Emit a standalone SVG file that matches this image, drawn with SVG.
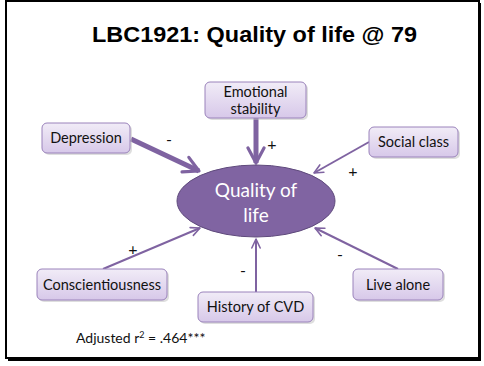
<svg xmlns="http://www.w3.org/2000/svg" width="484" height="366" viewBox="0 0 484 366">
<defs>
<linearGradient id="g" x1="0" y1="0" x2="0" y2="1">
<stop offset="0" stop-color="#f1ecf7"/>
<stop offset="1" stop-color="#d7c8e9"/>
</linearGradient>
<marker id="ah" viewBox="0 0 10 10" refX="8.5" refY="5" markerWidth="4" markerHeight="4" orient="auto" markerUnits="strokeWidth">
<path d="M1,1 L8.5,5 L1,9" fill="none" stroke="#7f63a1" stroke-width="1.6" stroke-linecap="round" stroke-linejoin="round"/>
</marker>
<marker id="ahs" viewBox="0 0 10 10" refX="8.5" refY="5" markerWidth="6" markerHeight="6" orient="auto" markerUnits="strokeWidth">
<path d="M1,1.5 L8.5,5 L1,8.5" fill="none" stroke="#7f63a1" stroke-width="1.3" stroke-linecap="round" stroke-linejoin="round"/>
</marker>
</defs>
<style>
.box{fill:url(#g);stroke:#9a82bb;stroke-width:1}
.shadow{fill:#bdbdbd;opacity:0.5}
.lbl{font-family:Lato,"Noto Sans",sans-serif;font-size:14.5px;fill:#111;text-anchor:middle}
.sign{font-family:Lato,"Noto Sans",sans-serif;font-size:16px;fill:#111;text-anchor:middle}
.thick{stroke:#7f63a1;stroke-width:5;fill:none}
.thin{stroke:#7f63a1;stroke-width:2;fill:none}
</style>
<rect x="0" y="0" width="484" height="366" fill="#fff"/>
<rect x="6" y="1" width="473" height="357" fill="none" stroke="#000" stroke-width="2"/>
<rect x="478" y="3" width="3" height="358" fill="#000"/>
<rect x="8" y="358" width="473" height="3" fill="#000"/>
<text x="254.5" y="42" font-family="Liberation Sans,Arial,sans-serif" font-size="21.5" font-weight="bold" text-anchor="middle" fill="#000" textLength="325" lengthAdjust="spacingAndGlyphs">LBC1921: Quality of life @ 79</text>

<g id="connectors">
<line class="thick" x1="131" y1="139" x2="199" y2="171" marker-end="url(#ah)"/>
<line class="thick" x1="256" y1="118" x2="256" y2="163" marker-end="url(#ah)"/>
<line class="thin" x1="369" y1="142" x2="314" y2="173" marker-end="url(#ahs)"/>
<line class="thin" x1="103" y1="269" x2="200" y2="228" marker-end="url(#ahs)"/>
<line class="thin" x1="256" y1="292" x2="256" y2="239" marker-end="url(#ahs)"/>
<line class="thin" x1="398" y1="269" x2="315" y2="228" marker-end="url(#ahs)"/>
</g>

<g id="signs">
<text class="sign" x="169" y="145">-</text>
<text class="sign" x="272" y="150">+</text>
<text class="sign" x="353" y="177">+</text>
<text class="sign" x="133" y="255">+</text>
<text class="sign" x="243" y="276">-</text>
<text class="sign" x="340" y="260">-</text>
</g>

<g id="quality">
<ellipse cx="256" cy="201" rx="79" ry="36" fill="#8064a2" stroke="#5f4a7c" stroke-width="1"/>
<text x="256" y="197" font-family="Lato,'Noto Sans',sans-serif" font-size="19" fill="#fff" text-anchor="middle">Quality of</text>
<text x="256" y="222" font-family="Lato,'Noto Sans',sans-serif" font-size="19" fill="#fff" text-anchor="middle">life</text>
</g>

<g id="emotional">
<rect class="shadow" x="207" y="84" width="101" height="36" rx="5"/>
<rect class="box" x="205" y="82" width="101" height="36" rx="5"/>
<text class="lbl" x="255.5" y="97">Emotional</text>
<text class="lbl" x="255.5" y="114">stability</text>
</g>

<g id="depression">
<rect class="shadow" x="44" y="125" width="88" height="30" rx="5"/>
<rect class="box" x="42" y="123" width="88" height="30" rx="5"/>
<text class="lbl" x="86" y="143">Depression</text>
</g>

<g id="social">
<rect class="shadow" x="371" y="129" width="89" height="30" rx="5"/>
<rect class="box" x="369" y="127" width="89" height="30" rx="5"/>
<text class="lbl" x="413.5" y="147">Social class</text>
</g>

<g id="conscientiousness">
<rect class="shadow" x="39" y="271" width="130" height="31" rx="5"/>
<rect class="box" x="37" y="269" width="130" height="31" rx="5"/>
<text class="lbl" x="102" y="290">Conscientiousness</text>
</g>

<g id="cvd">
<rect class="shadow" x="200" y="294" width="115" height="30" rx="5"/>
<rect class="box" x="198" y="292" width="115" height="30" rx="5"/>
<text class="lbl" x="255.5" y="312">History of CVD</text>
</g>

<g id="livealone">
<rect class="shadow" x="355" y="271" width="90" height="31" rx="5"/>
<rect class="box" x="353" y="269" width="90" height="31" rx="5"/>
<text class="lbl" x="398" y="290">Live alone</text>
</g>

<text x="76" y="343" font-family="Lato,'Noto Sans',sans-serif" font-size="14" fill="#111">Adjusted r<tspan font-size="9" dy="-5">2</tspan><tspan dy="5"> = .464***</tspan></text>
</svg>
